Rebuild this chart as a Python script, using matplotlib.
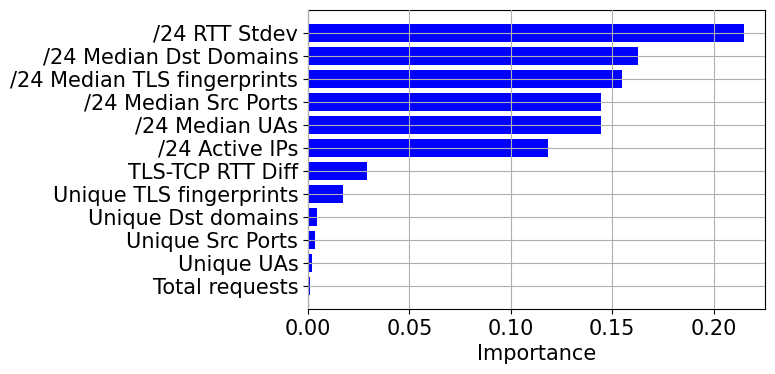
import matplotlib
matplotlib.use("Agg")
import matplotlib.pyplot as plt

features = [
    "/24 RTT Stdev",
    "/24 Median Dst Domains",
    "/24 Median TLS fingerprints",
    "/24 Median Src Ports",
    "/24 Median UAs",
    "/24 Active IPs",
    "TLS-TCP RTT Diff",
    "Unique TLS fingerprints",
    "Unique Dst domains",
    "Unique Src Ports",
    "Unique UAs",
    "Total requests",
]
importance = [0.2147, 0.1628, 0.1549, 0.1445, 0.1445, 0.1184,
              0.0290, 0.0171, 0.0043, 0.0033, 0.0018, 0.0008]

fig = plt.figure(figsize=(7.75, 3.74), dpi=100)
ax = fig.add_axes([308/775, 1-309/374, (765.3-308)/775, (309-10)/374])

labels = features[::-1]
vals = importance[::-1]
ax.barh(range(len(labels)), vals, color="blue", height=0.8)
ax.set_yticks(range(len(labels)))
ax.set_yticklabels(labels)
ax.set_xticks([0.0, 0.05, 0.10, 0.15, 0.20])
ax.set_xticklabels(["0.00", "0.05", "0.10", "0.15", "0.20"])
ax.tick_params(labelsize=15)
ax.set_xlabel("Importance", fontsize=15)
ax.set_axisbelow(False)
ax.grid(True, color="#b0b0b0", linewidth=0.8)

fig.savefig("out.png", dpi=100)
